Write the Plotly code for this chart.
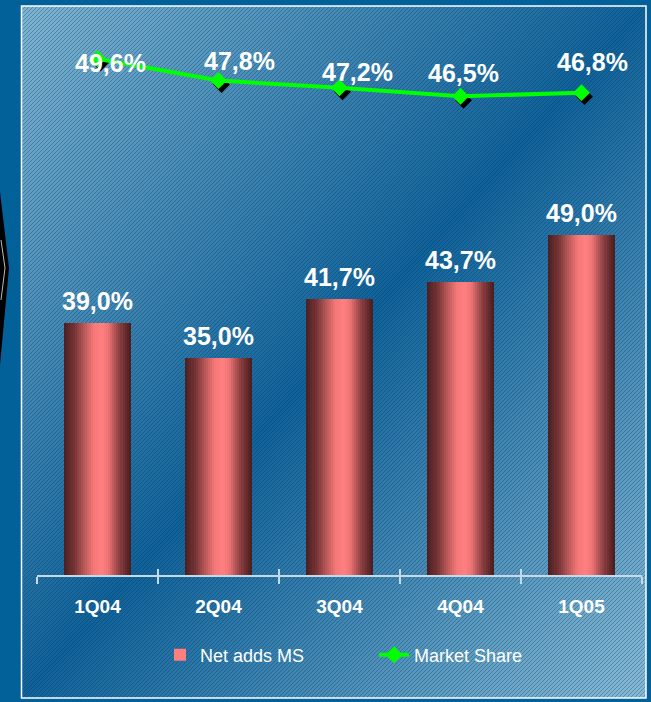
import base64
import plotly.graph_objects as go

# ---------------- data ----------------
quarters = ["1Q04", "2Q04", "3Q04", "4Q04", "1Q05"]
net_adds_ms = [39.0, 35.0, 41.7, 43.7, 49.0]
market_share = [49.6, 47.8, 47.2, 46.5, 46.8]
bar_name = "Net adds MS"
line_name = "Market Share"

# ---------------- styling ----------------
W, H = 651, 702
ML, MR, MT, MB = 37, 9, 20, 127
PW, PH = W - ML - MR, H - MT - MB

y1_range = [10.4, 73.4]
y3_range = [7.04, 52.79]
px_per_unit_y3 = PH / (y3_range[1] - y3_range[0])
px_per_cat = PW / 5.0
shadow_dx, shadow_dy = 3, 4
y2_range = [y3_range[0] + shadow_dy / px_per_unit_y3, y3_range[1] + shadow_dy / px_per_unit_y3]
x2_range = [-0.5 - shadow_dx / px_per_cat, 4.5 - shadow_dx / px_per_cat]

FONT = "Liberation Sans, Arial, sans-serif"

# background as SVG
svg = f'''<svg xmlns="http://www.w3.org/2000/svg" width="{W}" height="{H}" viewBox="0 0 {W} {H}" preserveAspectRatio="none">
<defs>
<linearGradient id="g" x1="0" y1="0" x2="1" y2="1">
<stop offset="0" stop-color="#7eb5d3"/>
<stop offset="0.5" stop-color="#0f639b"/>
<stop offset="1" stop-color="#86bbd7"/>
</linearGradient>
<pattern id="h" patternUnits="userSpaceOnUse" width="4" height="4">
<path d="M-1,1 l2,-2 M0,4 l4,-4 M3,5 l2,-2" stroke="rgba(10,40,70,0.32)" stroke-width="1"/>
</pattern>
</defs>
<rect x="0" y="0" width="{W}" height="{H}" fill="#03619a"/>
<polygon points="0,192 9,268 0,365" fill="#000"/>
<polyline points="1,240 5,268 1,300" fill="none" stroke="#bbb" stroke-width="1"/>
<rect x="21.5" y="6" width="624.5" height="692" fill="url(#g)"/>
<rect x="21.5" y="6" width="624.5" height="692" fill="url(#h)"/>
<rect x="21.5" y="6" width="624.5" height="692" fill="none" stroke="#ffffff" stroke-width="1.5"/>
</svg>'''
svg_uri = "data:image/svg+xml;base64," + base64.b64encode(svg.encode()).decode()

# cylinder colour ramp
ramp = [(0.0, (72, 30, 32)), (0.15, (118, 52, 54)), (0.3, (185, 88, 88)), (0.45, (245, 120, 120)),
        (0.56, (255, 128, 128)), (0.66, (238, 116, 116)), (0.78, (168, 78, 80)), (0.9, (108, 46, 48)),
        (1.0, (70, 28, 30))]


def ramp_color(t):
    for (p0, c0), (p1, c1) in zip(ramp[:-1], ramp[1:]):
        if p0 <= t <= p1:
            f = (t - p0) / (p1 - p0)
            c = [round(a + (b - a) * f) for a, b in zip(c0, c1)]
            return f"rgb({c[0]},{c[1]},{c[2]})"
    return "rgb(70,28,30)"


BAR_W = 0.551
N = 32
fig = go.Figure()
for i in range(N):
    sw = BAR_W / N
    w = sw * 1.6 if i < N - 1 else sw
    fig.add_trace(go.Bar(
        x=quarters, y=net_adds_ms, width=[w] * 5, offset=[-BAR_W / 2 + i * sw] * 5,
        marker=dict(color=ramp_color((i + 0.5) / N), line=dict(width=0)),
        name=bar_name, showlegend=(i == 18), hoverinfo="skip", xaxis="x", yaxis="y",
    ))

xi = list(range(len(quarters)))
# shadow of the markers
fig.add_trace(go.Scatter(
    x=xi, y=market_share, mode="markers", xaxis="x2", yaxis="y2",
    marker=dict(symbol="diamond", size=13, color="#000000"), showlegend=False, hoverinfo="skip",
))
fig.add_trace(go.Scatter(
    x=xi, y=market_share, mode="lines+markers", name=line_name, xaxis="x3", yaxis="y3",
    line=dict(color="#00ff00", width=4),
    marker=dict(symbol="diamond", size=13, color="#00ff00"),
))

fmt = lambda v: f"{v:.1f}".replace(".", ",") + "%"
annotations = []
for q, v in zip(quarters, net_adds_ms):
    annotations.append(dict(x=q, y=v, xref="x", yref="y", text=fmt(v), showarrow=False,
                            yanchor="middle", yshift=22,
                            font=dict(family=FONT, size=25, color="white", weight="bold")))
line_label_offsets = [(13, -4), (21, 20), (18, 15.5), (3, 23.5), (11, 30.5)]
for i, v in enumerate(market_share):
    dx, dy = line_label_offsets[i]
    annotations.append(dict(x=i, y=v, xref="x3", yref="y3", text=fmt(v), showarrow=False,
                            yanchor="middle", xshift=dx, yshift=dy,
                            font=dict(family=FONT, size=25, color="white", weight="bold")))

axis_col = "#c6d9e8"
fig.update_layout(
    width=W, height=H,
    margin=dict(l=ML, r=MR, t=MT, b=MB, pad=0),
    paper_bgcolor="#03619a", plot_bgcolor="rgba(0,0,0,0)",
    barmode="overlay", bargap=0,
    font=dict(family=FONT, color="white"),
    images=[dict(source=svg_uri, xref="paper", yref="paper", x=-ML / PW, y=1 + MT / PH,
                 sizex=W / PW, sizey=H / PH, xanchor="left", yanchor="top",
                 sizing="stretch", layer="below")],
    xaxis=dict(type="category", categoryorder="array", categoryarray=quarters, range=[-0.5, 4.5],
               showline=True, linecolor=axis_col, linewidth=1.5, ticks="outside", tickson="boundaries",
               ticklen=7, tickwidth=1.5, tickcolor=axis_col, showgrid=False, zeroline=False,
               tickfont=dict(family=FONT, size=19, color="white", weight="bold"),
               ticklabelstandoff=13, fixedrange=True),
    yaxis=dict(range=y1_range, visible=False, fixedrange=True),
    xaxis2=dict(overlaying="x", anchor="y2", range=x2_range, visible=False),
    yaxis2=dict(overlaying="y", anchor="x2", range=y2_range, visible=False),
    xaxis3=dict(overlaying="x", anchor="y3", range=[-0.5, 4.5], tickmode="array",
                tickvals=[-0.5, 0.5, 1.5, 2.5, 3.5, 4.5], ticks="inside", ticklen=6, tickwidth=1.5,
                tickcolor=axis_col, showticklabels=False, showgrid=False, zeroline=False, showline=False),
    yaxis3=dict(overlaying="y", anchor="x3", range=y3_range, visible=False),
    legend=dict(orientation="h", x=(160 - ML) / PW, xanchor="left", y=-80 / PH, yanchor="middle",
                bgcolor="rgba(0,0,0,0)", font=dict(family=FONT, size=18, color="white"),
                entrywidth=169, entrywidthmode="pixels", traceorder="normal"),
    annotations=annotations,
    showlegend=True,
)

fig.write_html("out.html", config={"displayModeBar": False},
               post_script="document.body.style.margin='0';document.body.style.background='#03619a';")
